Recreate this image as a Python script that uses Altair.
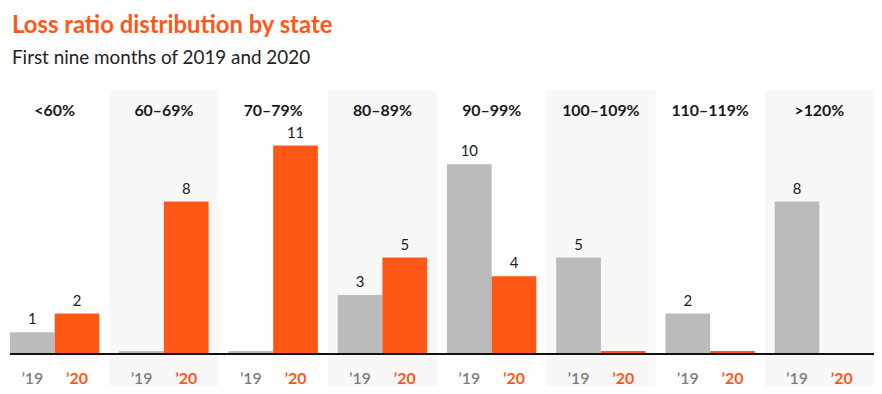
import altair as alt
import pandas as pd

categories = ["<60%", "60–69%", "70–79%", "80–89%", "90–99%", "100–109%", "110–119%", ">120%"]
years = ["’19", "’20"]
values_2019 = [1, 0, 0, 3, 10, 5, 2, 8]
values_2020 = [2, 8, 11, 5, 4, 0, 0, None]

ORANGE = "#FF5716"
GRAY = "#BBBBBB"
BG = "#F8F8F8"
FONT = "Lato"

rows = []
for i, c in enumerate(categories):
    rows.append({"cat": c, "yr": years[0], "v": values_2019[i], "idx": i})
    rows.append({"cat": c, "yr": years[1], "v": values_2020[i], "idx": i})
df = pd.DataFrame(rows)
cat_df = pd.DataFrame({"cat": categories, "idx": list(range(len(categories)))})

W = 872
H = 266

xscale = alt.Scale(domain=categories, range=[-8, W], paddingInner=0, paddingOuter=0)
xoff = alt.XOffset("yr:N", scale=alt.Scale(domain=years, paddingInner=0, paddingOuter=10 / 45))
yscale = alt.Scale(domain=[0, 14.15], nice=False, zero=True)
X = alt.X("cat:N", scale=xscale, axis=None, sort=categories)

bg = alt.Chart(cat_df).transform_filter("datum.idx % 2 == 1").mark_rect(color=BG).encode(
    x=X, y=alt.value(0), y2=alt.value(H + 60)
)

bars = alt.Chart(df).transform_filter("isValid(datum.v)").mark_bar(yOffset=-3, y2Offset=-1).encode(
    x=X,
    xOffset=xoff,
    y=alt.Y("v:Q", scale=yscale, axis=None),
    y2=alt.datum(0),
    color=alt.Color("yr:N", scale=alt.Scale(domain=years, range=[GRAY, ORANGE]), legend=None),
)

baseline = alt.Chart(cat_df).transform_filter("datum.idx == 0").mark_rule(
    color="#111111", strokeWidth=2
).encode(x=alt.value(2), x2=alt.value(W), y=alt.Y(datum=0, scale=yscale))

labels = alt.Chart(df).transform_filter("isValid(datum.v) && datum.v > 0").mark_text(
    font=FONT, fontSize=15, color="#1a1a1a", baseline="alphabetic", dy=-11
).encode(x=X, xOffset=xoff, y=alt.Y("v:Q", scale=yscale), text="v:Q")

headers = alt.Chart(cat_df).mark_text(
    font=FONT, fontSize=16, fontWeight="bold", color="#1a1a1a", baseline="middle"
).encode(x=X, y=alt.value(21), text="cat:N")

yr19 = alt.Chart(df).transform_filter(f"datum.yr == '{years[0]}'").mark_text(
    font=FONT, fontSize=16, fontWeight=600, color="#7d7d7d", baseline="middle"
).encode(x=X, xOffset=xoff, y=alt.value(291), text="yr:N")

yr20 = alt.Chart(df).transform_filter(f"datum.yr == '{years[1]}'").mark_text(
    font=FONT, fontSize=16, fontWeight="bold", color=ORANGE, baseline="middle"
).encode(x=X, xOffset=xoff, y=alt.value(291), text="yr:N")

chart = alt.layer(bg, bars, baseline, labels, headers, yr19, yr20).properties(
    width=W,
    height=H,
    autosize=alt.AutoSizeParams(type="none"),
    padding={"left": 0, "top": 81, "right": 0, "bottom": 31},
    title=alt.TitleParams(
        text="Loss ratio distribution by state",
        subtitle="First nine months of 2019 and 2020",
        anchor="start",
        frame="group",
        font=FONT,
        fontSize=24,
        fontWeight="bold",
        color=ORANGE,
        subtitleFont=FONT,
        subtitleFontSize=19,
        subtitleColor="#222222",
        subtitleFontWeight="normal",
        subtitlePadding=11,
        offset=22,
        dx=4,
    ),
).configure_view(stroke=None)

chart.save("out.html", embed_options={"renderer": "svg", "actions": False})
